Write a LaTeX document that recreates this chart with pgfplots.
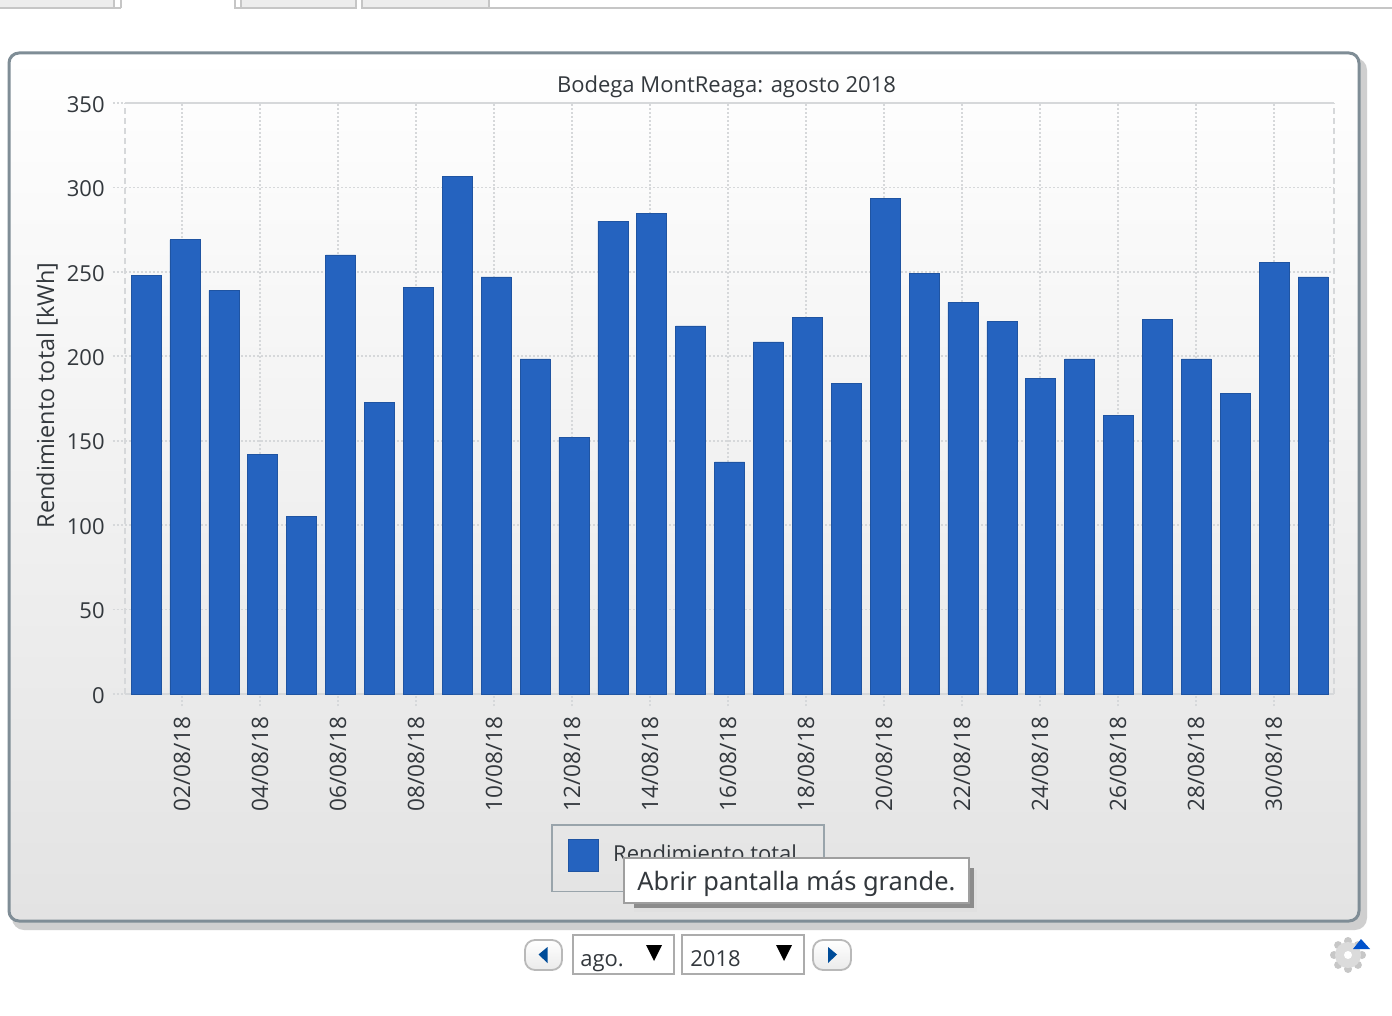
\documentclass[border=0pt]{standalone}
\usepackage{fontspec}
\setmainfont{Open Sans}
\newfontfamily\tipfont{Noto Sans}
\usepackage{pgfplots}
\pgfplotsset{compat=1.18}
\usepackage{pgfplotstable}
\definecolor{barblue}{HTML}{2563BF}
\definecolor{txt}{HTML}{33383D}
\definecolor{bord}{HTML}{7F8D96}
\definecolor{gridc}{HTML}{D6D8DA}
\pgfplotstableread{
day value
1 248
2 269
3 239
4 142
5 105
6 260
7 172.5
8 241
9 306.5
10 247
11 198.5
12 152
13 280
14 284.5
15 218
16 137.5
17 208.5
18 223
19 184
20 293.5
21 249
22 232
23 220.5
24 187
25 198.5
26 165
27 222
28 198.5
29 178
30 255.5
31 247
}\yieldtable
\begin{document}
\begin{tikzpicture}[x=.5pt,y=-.5pt]
\useasboundingbox (0,0) rectangle (1392,1016);
\fill[white] (0,0) rectangle (1392,1016);
% tabs
\foreach \a/\b in {-10/114,241/356,362/489}{
  \filldraw[fill=gray!14,draw=gray!45,line width=.9pt] (\a,-5) rectangle (\b,8);
}
\draw[gray!45,line width=.9pt] (114,8) -- (121,8) (121,-5) -- (121,8) (235,-5) -- (235,8) -- (241,8) (489,8) -- (1392,8);
% panel
\fill[rounded corners=6pt,black!19] (12,58) rectangle (1367,930);
\shade[rounded corners=5pt,top color=white,bottom color=black!11,draw=bord,line width=1.5pt] (9,53) rectangle (1359,921);
\begin{axis}[
  at={(62.5pt,-347pt)},anchor=south west,
  scale only axis,width=604.5pt,height=295.5pt,
  ymin=0,ymax=350,xmin=0.46,xmax=31.54,
  ytick={0,50,...,350},
  xtick={1.925,3.93,5.935,7.94,9.945,11.95,13.955,15.96,17.965,19.97,21.975,23.98,25.985,27.99,29.995},
  xticklabels={02/08/18,04/08/18,06/08/18,08/08/18,10/08/18,12/08/18,14/08/18,16/08/18,18/08/18,20/08/18,22/08/18,24/08/18,26/08/18,28/08/18,30/08/18},
  /pgf/number format/assume math mode=true,
  tick label style={font=\fontsize{11}{13}\selectfont,text=txt},
  xticklabel style={font=\fontsize{11.3}{13}\selectfont,rotate=90,anchor=east,xshift=-2pt,yshift=0pt},
  yticklabel style={inner sep=1pt,xshift=-3pt,yshift=-.7pt},
  separate axis lines,
  x axis line style={gridc,line width=.9pt},
  y axis line style={gridc,line width=.9pt,dash pattern=on 3pt off 2pt},
  xtick pos=bottom,ytick pos=left,
  tick align=outside,
  major tick length=6pt,
  tick style={gridc,dash pattern=on 1pt off 1pt,line width=.9pt},
  ymajorgrids,xmajorgrids,
  grid style={gridc,dash pattern=on 1pt off 1pt,line width=.9pt},
  ylabel={Rendimiento total [kWh]},
  ylabel style={font=\fontsize{11.7}{13}\selectfont,text=txt,at={(axis description cs:0,0.5)},anchor=south,yshift=30pt,xshift=1.5pt},
  title={Bodega MontReaga: agosto 2018},
  title style={font=\fontsize{11}{13}\selectfont,text=txt,at={(axis description cs:0.4975,1)},anchor=south,yshift=-7pt},
  legend style={at={(axis description cs:0.3525,-0.2205)},anchor=north west,draw=bord!80,fill=none,line width=.7pt,
     font=\fontsize{11}{13}\selectfont,text=txt,inner xsep=8pt,inner ysep=7pt},
  legend image code/.code={\fill[#1] (0pt,-8.5pt) rectangle (15pt,7.5pt);\path[draw=none,fill=none] (0pt,-11.5pt) -- (20.5pt,-11.5pt);},
  legend cell align=left,
]
\addplot[ybar,bar width=15pt,fill=barblue,draw=barblue!85!black,line width=.3pt] table[x=day,y=value] {\yieldtable};
\addlegendentry{Rendimiento total\hspace*{3.5pt}}
\end{axis}
% tooltip
\fill[black!12] (634,870) rectangle (977,912);
\fill[black!45] (634,868) rectangle (974,908);
\filldraw[fill=white,draw=gray!75,line width=.9pt] (624,858) rectangle (969,903);
\node[anchor=base west,inner sep=0,text=txt,font=\tipfont\fontsize{12.7}{16}\selectfont] at (637,890) {Abrir pantalla más grande.};
% controls
\foreach \l/\r/\d in {525/562/-1,813/851/1}{
  \filldraw[rounded corners=5pt,top color=white,bottom color=black!8,draw=gray!55,line width=.9pt] (\l,940) rectangle (\r,970);
  \fill[blue!50!cyan!60!black] ({(\l+\r)/2+\d*5},954.5) -- ({(\l+\r)/2-\d*4},947) -- ({(\l+\r)/2-\d*4},963) -- cycle;
}
\foreach \l/\r/\t/\tx in {573/674/ago./580,682/804/2018/690}{
  \filldraw[fill=white,draw=gray!65,line width=.9pt] (\l,935) rectangle (\r,974);
  \node[anchor=base west,inner sep=0,text=txt,font=\fontsize{11}{13}\selectfont] at (\tx,966) {\t};
  \fill[black] ({\r-28},945) -- ({\r-12},945) -- ({\r-20},961) -- cycle;
}
% gear
\foreach \a in {0,45,...,315}{
  \fill[black!22] (1348,955) ++(\a:14) circle (4);
}
\fill[black!14] (1348,955) circle (13);
\fill[white] (1348,955) circle (4);
\fill[blue!60!cyan!80!black] (1353,949) -- (1361,939) -- (1370,949) -- cycle;
\end{tikzpicture}
\end{document}
